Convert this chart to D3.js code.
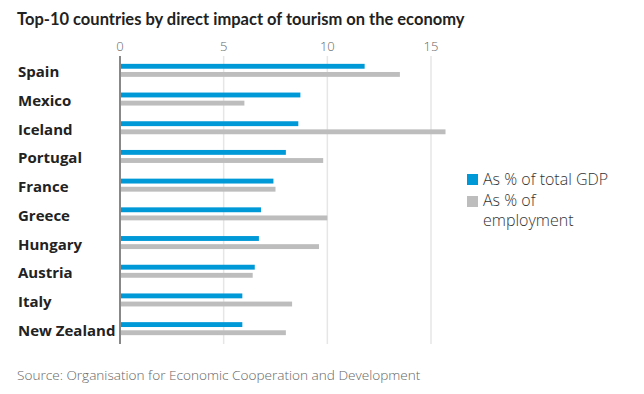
<!DOCTYPE html>
<html>
<head>
  <meta charset="utf-8">
  <title>Tourism impact</title>
  <script src="https://d3js.org/d3.v7.min.js"></script>
  <style>
    body { margin: 0; background: #fff; }
    text { font-family: "Open Sans", sans-serif; }
  </style>
</head>
<body>
<div id="chart"></div>
<script type="text/javascript">
  let w = 644;
  let h = 394;

  let countries = ['Spain', 'Mexico', 'Iceland', 'Portugal', 'France',
                   'Greece', 'Hungary', 'Austria', 'Italy', 'New Zealand'];
  let gdp = [11.8, 8.7, 8.6, 8.0, 7.4, 6.8, 6.7, 6.5, 5.9, 5.9];
  let employment = [13.5, 6.0, 15.7, 9.8, 7.5, 10.0, 9.6, 6.4, 8.3, 8.0];
  let ticks = [0, 5, 10, 15];
  let seriesNames = ['As % of total GDP', 'As % of employment'];
  let colors = ['#0099d8', '#bdbdbd'];

  let xScale = d3.scaleLinear().domain([0, 15]).range([120, 431]);
  let yScale = d3.scaleBand().domain(countries).range([56, 343]);
  let sub = d3.scaleBand().domain([0, 1]).range([-6.5, 6.5]).paddingInner(0.4);

  let svg = d3.select('#chart')
              .append('svg')
              .attr('width', w)
              .attr('height', h);

  // titulo
  svg.append('text')
     .attr('x', 17).attr('y', 25)
     .style('font-family', 'Lato, sans-serif')
     .attr('font-size', '16.5px')
     .attr('font-weight', 'bold')
     .attr('fill', '#222')
     .text('Top-10 countries by direct impact of tourism on the economy');

  // grade
  svg.selectAll('line.grid')
     .data(ticks.slice(1))
     .enter()
     .append('line')
     .attr('class', 'grid')
     .attr('x1', d => xScale(d)).attr('x2', d => xScale(d))
     .attr('y1', 56).attr('y2', 344)
     .attr('stroke', '#e6e6e6')
     .attr('stroke-width', 1.5);

  svg.selectAll('text.tick')
     .data(ticks)
     .enter()
     .append('text')
     .attr('class', 'tick')
     .attr('x', d => xScale(d))
     .attr('y', 51)
     .attr('text-anchor', 'middle')
     .attr('font-size', '13px')
     .attr('font-weight', 300)
     .attr('fill', '#666')
     .text(d => d);

  // barras
  let rows = countries.map((c, i) => ({ c, vals: [gdp[i], employment[i]] }));
  let g = svg.selectAll('g.row')
             .data(rows)
             .enter()
             .append('g')
             .attr('transform', d => `translate(0,${yScale(d.c) + yScale.bandwidth() / 2})`);

  g.selectAll('rect')
   .data(d => d.vals)
   .enter()
   .append('rect')
   .attr('x', xScale(0))
   .attr('y', (d, i) => sub(i))
   .attr('width', d => xScale(d) - xScale(0))
   .attr('height', sub.bandwidth())
   .attr('fill', (d, i) => colors[i]);

  g.append('text')
   .attr('x', 18)
   .attr('y', 7)
   .attr('font-size', '15px')
   .attr('font-weight', 'bold')
   .attr('fill', '#222')
   .text(d => d.c);

  // eixo
  svg.append('line')
     .attr('x1', xScale(0)).attr('x2', xScale(0))
     .attr('y1', 56).attr('y2', 344)
     .attr('stroke', '#888')
     .attr('stroke-width', 2);

  // legenda
  let legend = svg.append('g').attr('transform', 'translate(467,0)');
  legend.selectAll('rect')
        .data(seriesNames)
        .enter()
        .append('rect')
        .attr('x', 0)
        .attr('y', (d, i) => 174 + i * 22)
        .attr('width', 11).attr('height', 11)
        .attr('fill', (d, i) => colors[i]);
  let lt = legend.append('g')
        .attr('font-size', '16px')
        .attr('font-weight', 300)
        .attr('fill', '#333');
  lt.append('text').attr('x', 16).attr('y', 185).text('As % of total GDP');
  lt.append('text').attr('x', 16).attr('y', 206).text('As % of');
  lt.append('text').attr('x', 16).attr('y', 226).text('employment');

  // fonte
  svg.append('text')
     .attr('x', 17).attr('y', 380)
     .attr('font-size', '13.6px')
     .attr('font-weight', 300)
     .attr('fill', '#666')
     .text('Source: Organisation for Economic Cooperation and Development');
</script>
</body>
</html>
